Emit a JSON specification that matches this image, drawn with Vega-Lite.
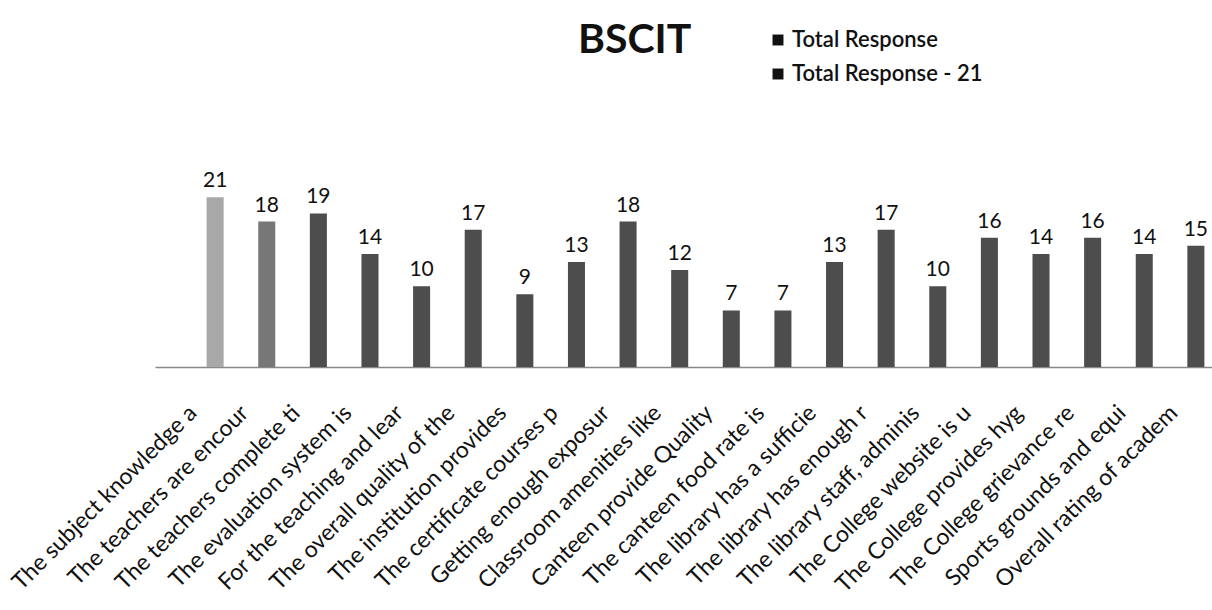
{
  "$schema": "https://vega.github.io/schema/vega-lite/v6.json",
  "width": 1057,
  "height": 202,
  "autosize": "none",
  "padding": {"left": 155, "top": 165, "right": 0, "bottom": 243},
  "background": "white",
  "title": {
    "text": "BSCIT",
    "anchor": "start",
    "frame": "group",
    "dx": 423,
    "offset": 0,
    "dy": 65,
    "baseline": "alphabetic",
    "fontSize": 41,
    "font": "Lato",
    "fontWeight": "bold",
    "color": "#111"
  },
  "datasets": {
    "bars": [
      {"q": "The subject knowledge a", "value": 21},
      {"q": "The teachers are encour", "value": 18},
      {"q": "The teachers complete ti", "value": 19},
      {"q": "The evaluation system is", "value": 14},
      {"q": "For the teaching and lear", "value": 10},
      {"q": "The overall quality of the", "value": 17},
      {"q": "The institution provides", "value": 9},
      {"q": "The certificate courses p", "value": 13},
      {"q": "Getting enough exposur", "value": 18},
      {"q": "Classroom amenities like", "value": 12},
      {"q": "Canteen provide Quality", "value": 7},
      {"q": "The canteen food rate is", "value": 7},
      {"q": "The library has a sufficie", "value": 13},
      {"q": "The library has enough r", "value": 17},
      {"q": "The library staff, adminis", "value": 10},
      {"q": "The College website is u", "value": 16},
      {"q": "The College provides hyg", "value": 14},
      {"q": "The College grievance re", "value": 16},
      {"q": "Sports grounds and equi", "value": 14},
      {"q": "Overall rating of academ", "value": 15}
    ],
    "legend": [
      {"series": "Total Response"},
      {"series": "Total Response - 21"}
    ]
  },
  "config": {"view": {"stroke": null}},
  "layer": [
    {
      "data": {"name": "bars"},
      "mark": {"type": "bar"},
      "encoding": {
        "x": {
          "field": "q",
          "type": "nominal",
          "sort": null,
          "scale": {"paddingInner": 0.67, "paddingOuter": 1.0, "range": [0, 1101]},
          "axis": {
            "title": null,
            "labelAngle": -45,
            "labelAlign": "right",
            "labelBaseline": "middle",
            "labelFont": "Lato",
            "labelFontSize": 23,
            "labelColor": "#111",
            "labelPadding": 42,
            "labelOffset": -22,
            "ticks": false,
            "domainColor": "#888",
            "domainWidth": 1.5,
            "labelLimit": 400
          }
        },
        "y": {
          "field": "value",
          "type": "quantitative",
          "scale": {"domain": [0, 25], "nice": false},
          "axis": null
        },
        "color": {
          "condition": [
            {"test": "datum.q === 'The subject knowledge a'", "value": "#a8a8a8"},
            {"test": "datum.q === 'The teachers are encour'", "value": "#777777"}
          ],
          "value": "#4d4d4d"
        }
      }
    },
    {
      "data": {"name": "bars"},
      "mark": {"type": "text", "baseline": "bottom", "dy": -6, "fontSize": 21, "font": "Lato", "color": "#111"},
      "encoding": {
        "x": {"field": "q", "type": "nominal", "sort": null},
        "y": {"field": "value", "type": "quantitative"},
        "text": {"field": "value", "type": "quantitative"}
      }
    },
    {
      "data": {"name": "legend"},
      "mark": {"type": "square", "opacity": 0},
      "encoding": {
        "color": {
          "field": "series",
          "type": "nominal",
          "scale": {"range": ["#111111", "#111111"]},
          "legend": {
            "title": null,
            "orient": "none",
            "legendX": 612,
            "legendY": -136,
            "symbolType": "square",
            "symbolSize": 120,
            "symbolOpacity": 1,
            "labelFont": "Lato",
            "labelFontSize": 22,
            "labelFontWeight": 600,
            "labelColor": "#111",
            "labelLimit": 400,
            "rowPadding": 12,
            "labelOffset": 3
          }
        }
      }
    }
  ]
}
